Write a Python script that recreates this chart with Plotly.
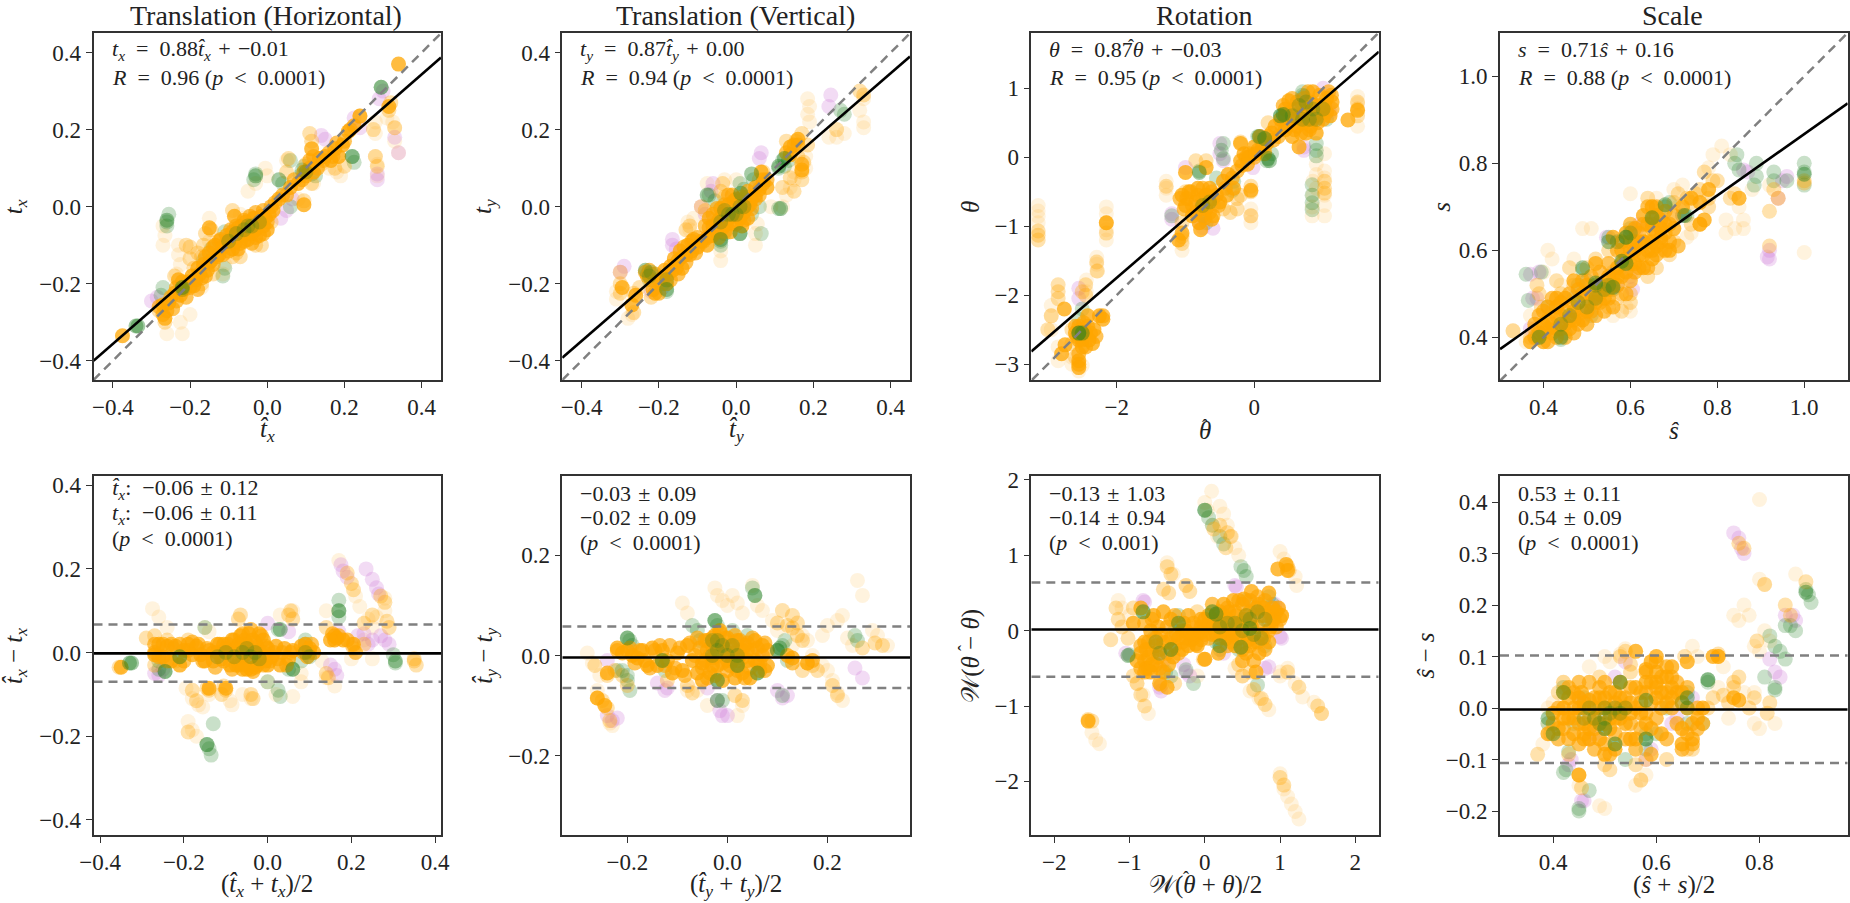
import plotly.graph_objects as go

W, H = 1850, 903
SERIF = "Liberation Serif"
ORANGE, GREEN, PLUM, GRAY, BLACK = "#FFA500", "#1E7D1E", "#D27FD8", "#808080", "#000000"

# ---------- Translation (Horizontal), top ----------
A_FAINT = [(-0.27,-0.05),(-0.265,-0.075),(-0.27,-0.10),(-0.23,-0.10),(-0.23,-0.125),(-0.225,-0.15),(-0.235,-0.175),(-0.22,-0.33),(-0.225,-0.30),(-0.15,-0.09),(-0.15,-0.03),(-0.115,-0.175),(-0.11,-0.15),(-0.06,-0.03),(-0.005,0.10),(-0.03,0.06),(-0.05,0.04),(-0.07,-0.02),(0.0,0.08),(0.05,0.12),(0.08,0.02),(0.19,0.08),(0.28,0.22),(0.28,0.19),(0.28,0.13),(0.285,0.11),(0.285,0.08),(0.325,0.22),(0.33,0.205),(0.34,0.14),(0.33,0.17),(0.31,0.23),(-0.20,-0.28),(-0.26,-0.33),(-0.17,-0.21),(0.12,0.06),(0.16,0.10),(0.18,0.09)]
A_PLUM = [(-0.30,-0.245),(-0.285,-0.235),(0.14,0.185),(0.15,0.175),(0.225,0.23),(0.24,0.205),(0.29,0.28),(0.30,0.30),(0.33,0.18),(0.34,0.14),(0.285,0.085),(0.285,0.07),(0.035,-0.03),(0.065,0.02),(0.05,-0.01)]
A_GREEN = [(-0.255,-0.02),(-0.26,-0.04),(-0.26,-0.05),(-0.275,-0.23),(-0.27,-0.21),(-0.11,-0.065),(-0.145,-0.11),(-0.115,-0.18),(-0.11,-0.16),(-0.165,-0.14),(-0.035,0.07),(-0.03,0.085),(0.04,0.06),(0.06,0.12),(0.085,0.08),(0.095,0.105),(0.115,0.085),(0.125,0.08),(0.22,0.13),(0.225,0.115),(0.06,0.0),(-0.08,-0.09),(0.295,0.31),(-0.06,-0.06),(-0.05,-0.06)]
A_MID = [(-0.28,-0.27),(-0.265,-0.30),(-0.24,-0.18),(-0.21,-0.10),(-0.20,-0.105),(-0.20,-0.135),(-0.18,-0.12),(-0.17,-0.13),(-0.19,-0.16),(-0.17,-0.20),(-0.165,-0.10),(-0.16,-0.07),(-0.145,-0.06),(-0.14,-0.175),(-0.09,-0.01),(-0.09,-0.13),(-0.08,-0.12),(-0.07,-0.13),(-0.03,-0.10),(-0.015,-0.10),(0.01,-0.04),(0.055,0.125),(0.05,0.09),(0.095,0.015),(0.10,0.11),(0.11,0.19),(0.115,0.17),(0.115,0.06),(0.14,0.11),(0.175,0.10),(0.20,0.105),(0.24,0.235),(0.275,0.20),(0.28,0.13),(0.285,0.105),(0.315,0.25),(0.33,0.205),(0.32,0.27)]
A_DENSE = [(-0.28,-0.26),(-0.27,-0.28),(-0.26,-0.27),(-0.25,-0.235),(-0.245,-0.265),(-0.235,-0.21),(-0.235,-0.245),(-0.22,-0.195),(-0.21,-0.235),(-0.2,-0.21),(-0.185,-0.19),(-0.18,-0.215),(-0.17,-0.185),(-0.16,-0.13),(-0.16,-0.18),(-0.15,-0.145),(-0.14,-0.105),(-0.14,-0.15),(-0.13,-0.13),(-0.125,-0.09),(-0.115,-0.125),(-0.105,-0.09),(-0.1,-0.115),(-0.095,-0.06),(-0.085,-0.095),(-0.08,-0.05),(-0.075,-0.11),(-0.07,-0.07),(-0.06,-0.035),(-0.06,-0.09),(-0.05,-0.065),(-0.045,-0.025),(-0.04,-0.095),(-0.03,-0.015),(-0.03,-0.08),(-0.02,-0.04),(-0.01,-0.07),(-0.01,-0.01),(0.0,-0.04),(0.01,0.0),(0.02,0.01),(0.04,0.03),(0.05,0.03),(0.07,0.07),(0.09,0.07),(0.1,0.08),(0.11,0.12),(0.12,0.13),(0.13,0.1),(0.145,0.12),(0.16,0.14),(0.17,0.13),(0.18,0.165),(0.2,0.17),(0.215,0.2)]
A_CORE = [(-0.375,-0.335),(-0.27,-0.255),(-0.265,-0.29),(-0.255,-0.25),(-0.24,-0.225),(-0.23,-0.19),(-0.225,-0.23),(-0.215,-0.215),(-0.205,-0.195),(-0.195,-0.18),(-0.19,-0.205),(-0.18,-0.16),(-0.175,-0.175),(-0.165,-0.15),(-0.155,-0.165),(-0.15,-0.12),(-0.145,-0.14),(-0.15,-0.055),(-0.135,-0.10),(-0.125,-0.125),(-0.12,-0.085),(-0.115,-0.105),(-0.105,-0.075),(-0.10,-0.095),(-0.09,-0.065),(-0.09,-0.11),(-0.085,-0.025),(-0.08,-0.08),(-0.075,-0.055),(-0.07,-0.095),(-0.065,-0.05),(-0.06,-0.075),(-0.055,-0.04),(-0.05,-0.085),(-0.045,-0.055),(-0.04,-0.07),(-0.035,-0.03),(-0.03,-0.06),(-0.025,-0.045),(-0.02,-0.075),(-0.015,-0.025),(-0.01,-0.05),(-0.005,-0.03),(0.0,-0.06),(0.005,-0.02),(0.015,-0.01),(0.03,0.02),(0.06,0.05),(0.08,0.06),(0.095,0.09),(0.095,0.005),(0.11,0.10),(0.115,0.15),(0.12,0.09),(0.135,0.125),(0.15,0.13),(0.165,0.12),(0.175,0.15),(0.185,0.13),(0.195,0.16),(0.21,0.195),(0.225,0.21),(0.24,0.235),(0.315,0.26),(0.34,0.37)]
A_SHADE = [(-0.22,-0.215),(-0.1,-0.09),(-0.08,-0.07),(-0.06,-0.06),(-0.05,-0.05),(-0.04,-0.05),(-0.02,-0.04),(0.09,0.095),(0.1,0.09)]
A_TOP = [(-0.34,-0.31),(-0.335,-0.31),(-0.26,-0.035),(-0.22,-0.21),(0.22,0.13),(0.295,0.31),(-0.03,0.08),(0.03,0.07)]

# ---------- Translation (Vertical), top ----------
B_FAINT = [(-0.31,-0.24),(-0.31,-0.22),(-0.28,-0.29),(-0.27,-0.28),(-0.125,-0.04),(-0.11,-0.03),(-0.12,-0.06),(-0.04,-0.14),(-0.04,-0.115),(0.05,-0.07),(0.05,-0.10),(0.055,-0.045),(0.0,0.07),(-0.03,0.07),(-0.075,0.06),(0.09,0.0),(0.12,0.0),(0.13,0.03),(0.14,0.05),(0.15,0.09),(0.15,0.07),(0.18,0.10),(0.18,0.13),(0.185,0.24),(0.185,0.28),(0.19,0.26),(0.19,0.22),(0.24,0.18),(0.26,0.18),(0.28,0.19),(0.33,0.22),(0.33,0.205),(0.33,0.28),(0.32,0.25)]
B_PLUM = [(-0.30,-0.17),(-0.29,-0.155),(-0.165,-0.10),(-0.165,-0.085),(-0.155,-0.11),(-0.06,0.06),(-0.065,0.04),(0.06,0.125),(0.065,0.14),(0.245,0.29),(0.24,0.26),(-0.08,-0.02),(-0.09,0.0),(-0.19,-0.21),(-0.22,-0.22)]
B_GREEN = [(-0.235,-0.165),(-0.23,-0.175),(-0.22,-0.175),(-0.225,-0.19),(-0.19,-0.20),(-0.18,-0.22),(-0.07,0.03),(-0.055,0.015),(-0.04,-0.09),(-0.04,-0.10),(-0.03,-0.07),(-0.02,-0.03),(0.01,-0.07),(0.01,0.06),(0.02,0.045),(0.045,0.07),(0.04,-0.02),(0.11,-0.005),(0.12,0.12),(0.125,0.105),(0.11,0.10),(0.135,0.12),(0.27,0.25),(0.28,0.24),(0.06,0.0),(0.065,-0.07)]
B_MID = [(-0.30,-0.17),(-0.30,-0.20),(-0.30,-0.225),(-0.265,-0.275),(-0.265,-0.225),(-0.25,-0.21),(-0.22,-0.235),(-0.13,-0.06),(-0.12,-0.05),(-0.095,-0.10),(-0.09,0.0),(-0.08,-0.01),(-0.04,0.04),(-0.035,0.06),(-0.03,0.025),(0.06,0.07),(0.07,0.09),(0.12,0.05),(0.14,0.075),(0.15,0.04),(0.16,0.13),(0.17,0.09),(0.175,0.115),(0.17,0.07),(0.155,0.17),(0.13,0.17),(0.17,0.19),(0.185,0.16),(0.26,0.20),(0.32,0.30),(0.33,0.29)]
B_DENSE = [(-0.235,-0.17),(-0.23,-0.18),(-0.225,-0.165),(-0.22,-0.19),(-0.21,-0.175),(-0.2,-0.225),(-0.2,-0.19),(-0.175,-0.175),(-0.17,-0.19),(-0.155,-0.16),(-0.15,-0.175),(-0.14,-0.13),(-0.135,-0.105),(-0.13,-0.145),(-0.12,-0.125),(-0.115,-0.09),(-0.105,-0.12),(-0.1,-0.08),(-0.085,-0.09),(-0.08,-0.05),(-0.075,-0.08),(-0.07,-0.055),(-0.06,-0.02),(-0.06,-0.075),(-0.05,-0.045),(-0.05,-0.005),(-0.045,-0.08),(-0.04,-0.055),(-0.035,-0.02),(-0.03,0.005),(-0.03,-0.065),(-0.02,-0.03),(-0.02,0.03),(-0.01,-0.045),(-0.01,0.03),(0.0,-0.02),(0.0,0.02),(0.01,-0.03),(0.015,0.025),(0.02,-0.035),(0.03,0.0),(0.03,0.04),(0.04,-0.005),(0.05,0.03),(0.05,0.02),(0.06,0.03),(0.07,0.07),(0.08,0.07),(0.13,0.14),(0.15,0.16),(0.16,0.16),(0.17,0.11)]
B_CORE = [(-0.295,-0.21),(-0.27,-0.255),(-0.26,-0.23),(-0.21,-0.225),(-0.215,-0.215),(-0.19,-0.185),(-0.185,-0.165),(-0.18,-0.20),(-0.17,-0.155),(-0.165,-0.165),(-0.16,-0.135),(-0.15,-0.14),(-0.145,-0.115),(-0.14,-0.16),(-0.13,-0.125),(-0.125,-0.10),(-0.115,-0.115),(-0.11,-0.085),(-0.10,-0.105),(-0.09,-0.09),(-0.075,-0.10),(-0.07,-0.03),(-0.065,-0.075),(-0.06,-0.05),(-0.05,-0.065),(-0.045,-0.035),(-0.04,-0.005),(-0.035,-0.055),(-0.03,-0.02),(-0.025,-0.045),(-0.02,0.005),(-0.015,-0.065),(-0.01,-0.025),(-0.005,0.015),(0.0,-0.045),(0.005,-0.01),(0.01,0.01),(0.015,-0.05),(0.02,-0.015),(0.025,0.025),(0.03,-0.03),(0.035,0.005),(0.04,0.02),(0.05,0.05),(0.06,0.045),(0.07,0.06),(0.08,0.05),(0.065,0.09),(0.14,0.155),(0.16,0.175),(0.17,0.095),(0.14,0.135)]
B_SHADE = [(-0.235,-0.165),(-0.225,-0.18),(-0.22,-0.17),(-0.04,-0.04),(-0.03,-0.01),(-0.02,-0.02),(-0.01,-0.02),(0.0,-0.02),(0.01,0.0),(0.02,0.0),(-0.18,-0.19)]
B_TOP = [(-0.18,-0.215),(-0.075,0.03),(-0.04,-0.085),(0.01,-0.07),(0.012,0.035),(0.04,0.085),(0.11,0.105),(0.115,-0.005),(0.125,0.125)]

# ---------- Rotation, top ----------
C_FAINT = [(-3.14,-0.70),(-3.14,-0.78),(-3.14,-0.86),(-3.14,-0.95),(-2.15,-0.72),(-2.15,-0.82),(-2.15,-1.05),(-2.15,-1.2),(-2.29,-1.45),(-2.29,-1.55),(-2.29,-1.65),(-2.44,-1.78),(-2.44,-1.95),(-2.95,-2.3),(-2.95,-2.15),(-2.95,-2.5),(-2.85,-2.75),(-2.85,-2.95),(-2.65,-2.9),(-2.65,-3.0),(-2.55,-3.1),(-2.5,-3.02),(-1.28,-0.35),(-1.28,-0.45),(-1.28,-0.55),(-1.05,-1.35),(-1.05,-1.2),(-0.05,-0.75),(-0.05,-0.85),(-0.05,-0.95),(0.9,-0.1),(0.9,-0.25),(0.9,-0.45),(1.02,-0.2),(1.02,-0.3),(1.02,0.05),(1.02,-0.55),(1.02,-0.7),(1.02,-0.85),(1.5,0.88),(1.5,0.78),(1.5,0.45),(0.85,-0.35),(0.85,-0.55),(0.84,-0.72),(0.84,-0.85)]
C_PLUM = [(-1.2,-0.82),(-1.2,-0.9),(-1.0,-0.15),(-0.8,-0.95),(-0.75,-1.02),(-0.6,-1.03),(-0.45,-0.05),(-0.5,0.05),(-0.5,0.2),(1.0,1.0),(0.72,0.15),(0.72,0.1),(1.08,0.72),(1.1,0.65),(-2.55,-2.05),(-2.55,-1.9),(0.1,0.3),(-0.02,-0.15)]
C_GREEN = [(-2.5,-2.2),(-2.55,-2.35),(-1.2,-0.85),(-0.8,-0.2),(-0.75,-0.85),(-0.7,-0.95),(-0.45,-0.02),(-0.48,0.1),(-0.45,0.2),(-0.3,-0.35),(-0.32,-0.48),(0.05,0.3),(0.1,0.25),(0.18,-0.05),(0.25,0.05),(0.38,0.6),(0.45,0.62),(0.7,0.95),(0.72,0.88),(0.9,0.2),(0.9,0.1),(0.9,0.02),(0.84,-0.4),(0.84,-0.55),(0.84,-0.66),(0.84,-0.76),(1.05,0.55),(-0.55,-0.3)]
C_MID = [(-3.14,-1.07),(-3.14,-1.13),(-3.14,-1.2),(-2.15,-0.95),(-2.15,-1.1),(-2.29,-1.52),(-2.28,-1.65),(-2.85,-1.85),(-2.85,-1.95),(-2.85,-2.05),(-2.95,-2.3),(-3.0,-2.5),(-2.6,-2.9),(-2.65,-2.7),(-2.65,-2.5),(-2.45,-2.0),(-2.45,-1.85),(-2.5,-1.95),(-1.28,-0.42),(-1.05,-1.15),(-1.05,-1.25),(-0.25,-0.75),(-0.25,-0.6),(-0.05,-0.5),(-0.05,-0.85),(-0.05,-0.42),(-0.2,-0.55),(1.02,-0.35),(1.02,-0.45),(1.02,-0.52),(1.5,0.7),(1.5,0.6),(1.5,0.8),(-0.7,-0.05),(-0.85,-0.05),(-1.0,-0.5),(-1.05,-0.95),(-0.45,-0.75),(-0.35,-0.8),(-0.6,-0.7),(0.15,0.1),(0.2,0.5),(-0.2,0.22)]
C_DENSE = [(-2.6,-2.45),(-2.58,-2.6),(-2.52,-2.5),(-2.5,-2.65),(-2.48,-2.4),(-2.45,-2.75),(-2.42,-2.45),(-2.38,-2.55),(-2.3,-2.6),(-2.55,-2.85),(-2.55,-3.0),(-2.2,-2.3),(-1.08,-0.6),(-1.02,-0.75),(-0.98,-0.6),(-0.92,-0.5),(-0.9,-0.7),(-0.85,-0.8),(-0.82,-0.55),(-0.78,-0.75),(-0.75,-0.45),(-0.72,-0.88),(-0.68,-0.65),(-0.65,-0.8),(-0.62,-0.5),(-0.6,-0.85),(-0.55,-0.55),(-0.52,-0.7),(-0.42,-0.45),(-0.32,-0.3),(-0.25,-0.2),(-0.18,-0.12),(-0.12,0.0),(-0.08,0.05),(0.0,0.0),(0.05,0.1),(0.15,0.05),(0.2,0.3),(0.28,0.25),(0.35,0.3),(0.4,0.45),(0.42,0.75),(0.45,0.6),(0.48,0.45),(0.5,0.65),(0.55,0.85),(0.58,0.4),(0.6,0.6),(0.62,0.8),(0.65,0.5),(0.68,0.35),(0.7,0.75),(0.72,0.5),(0.75,0.65),(0.78,0.95),(0.8,0.4),(0.82,0.8),(0.85,0.55),(0.88,0.75),(0.92,0.5),(0.95,0.9),(0.98,0.65),(1.02,0.75),(1.05,0.65),(1.08,0.95),(1.12,0.9),(1.13,0.7)]
C_CORE = [(-2.75,-2.72),(-2.8,-2.85),(-2.76,-2.2),(-2.6,-2.55),(-2.55,-2.65),(-2.55,-2.45),(-2.5,-2.75),(-2.55,-2.95),(-2.55,-3.05),(-2.45,-2.55),(-2.42,-2.3),(-2.4,-2.65),(-2.35,-2.7),(-2.33,-2.5),(-2.25,-2.3),(-2.2,-2.35),(-2.15,-0.95),(-1.1,-1.2),(-1.05,-1.1),(-1.0,-0.22),(-1.05,-0.55),(-1.0,-0.7),(-0.95,-0.5),(-0.9,-0.85),(-0.85,-0.65),(-0.82,-0.45),(-0.8,-0.95),(-0.78,-1.05),(-0.75,-0.6),(-0.7,-0.75),(-0.7,-0.55),(-0.7,-0.15),(-0.65,-0.45),(-0.62,-0.9),(-0.6,-0.6),(-0.5,-0.65),(-0.45,-0.35),(-0.4,-0.55),(-0.38,-0.25),(-0.3,-0.45),(-0.2,0.2),(-0.2,-0.05),(-0.15,0.05),(-0.1,-0.1),(-0.08,0.0),(-0.05,-0.48),(0.0,0.15),(0.02,0.05),(0.08,0.3),(0.12,0.15),(0.18,0.2),(0.25,0.35),(0.3,0.45),(0.38,0.55),(0.45,0.4),(0.45,0.7),(0.5,0.82),(0.55,0.3),(0.55,0.55),(0.6,0.7),(0.62,0.45),(0.65,0.15),(0.7,0.6),(0.72,0.85),(0.75,0.35),(0.78,0.55),(0.8,0.7),(0.82,0.45),(0.85,0.95),(0.88,0.6),(0.9,0.35),(0.95,0.75),(1.0,0.55),(1.05,0.85),(1.1,0.6),(1.13,0.8),(1.36,0.54),(1.5,0.68)]
C_SHADE = [(0.55,0.6),(0.65,0.75),(0.7,0.55),(0.75,0.8),(0.8,0.55),(0.85,0.7),(0.7,0.9),(-0.65,-0.65),(-0.75,-0.7),(-2.55,-2.55),(1.0,0.7),(0.9,0.55)]
C_TOP = [(-2.55,-2.55),(-2.5,-2.55),(0.2,-0.02),(0.22,-0.05),(0.38,0.6),(0.42,0.62),(0.07,0.3),(0.15,0.27),(-0.8,-0.22)]

# ---------- Scale, top ----------
D_FAINT = [(0.33,0.415),(0.36,0.39),(0.37,0.45),(0.41,0.60),(0.42,0.58),(0.49,0.65),(0.51,0.65),(0.47,0.58),(0.44,0.52),(0.40,0.55),(0.56,0.45),(0.60,0.46),(0.59,0.47),(0.66,0.72),(0.70,0.74),(0.72,0.75),(0.68,0.60),(0.73,0.63),(0.74,0.64),(0.71,0.70),(0.78,0.79),(0.79,0.82),(0.81,0.84),(0.83,0.82),(0.82,0.67),(0.84,0.65),(0.86,0.65),(0.86,0.67),(0.82,0.64),(0.92,0.75),(0.94,0.72),(1.0,0.595),(0.85,0.70),(0.88,0.74),(0.60,0.73),(0.56,0.51)]
D_PLUM = [(0.37,0.545),(0.39,0.55),(0.375,0.49),(0.385,0.49),(0.545,0.63),(0.615,0.65),(0.62,0.66),(0.37,0.42),(0.45,0.43),(0.475,0.45),(0.57,0.52),(0.6,0.54),(0.605,0.51),(0.86,0.785),(0.87,0.78),(0.95,0.76),(0.96,0.77),(0.92,0.60),(0.915,0.585),(0.92,0.58),(0.94,0.72),(0.72,0.68)]
D_GREEN = [(0.36,0.545),(0.395,0.55),(0.365,0.485),(0.385,0.40),(0.41,0.47),(0.44,0.395),(0.45,0.41),(0.47,0.49),(0.48,0.52),(0.49,0.555),(0.5,0.53),(0.51,0.45),(0.555,0.52),(0.56,0.51),(0.55,0.63),(0.58,0.62),(0.6,0.65),(0.65,0.66),(0.68,0.70),(0.72,0.68),(0.73,0.68),(0.84,0.80),(0.845,0.82),(0.85,0.785),(0.89,0.80),(0.89,0.77),(0.885,0.75),(0.93,0.78),(0.93,0.76),(0.96,0.76),(1.0,0.80),(1.0,0.78),(1.0,0.75),(0.69,0.71)]
D_MID = [(0.33,0.415),(0.37,0.40),(0.38,0.42),(0.385,0.52),(0.39,0.50),(0.395,0.47),(0.42,0.46),(0.43,0.53),(0.44,0.50),(0.46,0.56),(0.47,0.52),(0.48,0.44),(0.5,0.56),(0.52,0.58),(0.55,0.60),(0.56,0.55),(0.6,0.50),(0.6,0.48),(0.55,0.47),(0.58,0.46),(0.64,0.54),(0.66,0.56),(0.67,0.60),(0.69,0.59),(0.7,0.62),(0.65,0.70),(0.64,0.72),(0.7,0.71),(0.74,0.66),(0.76,0.66),(0.71,0.73),(0.73,0.72),(0.76,0.74),(0.78,0.72),(0.79,0.76),(0.77,0.78),(0.83,0.72),(0.84,0.73),(0.92,0.69),(0.93,0.74),(0.94,0.72),(1.0,0.76),(1.0,0.755),(0.92,0.61),(0.58,0.50),(0.57,0.49),(0.78,0.70),(0.8,0.76),(0.75,0.73),(0.74,0.71)]
D_DENSE = [(0.38,0.40),(0.38,0.43),(0.39,0.45),(0.4,0.41),(0.4,0.46),(0.41,0.39),(0.41,0.47),(0.42,0.43),(0.42,0.49),(0.43,0.40),(0.43,0.45),(0.44,0.42),(0.44,0.48),(0.45,0.40),(0.45,0.46),(0.46,0.44),(0.46,0.50),(0.47,0.41),(0.47,0.47),(0.48,0.43),(0.48,0.51),(0.49,0.46),(0.49,0.53),(0.5,0.43),(0.5,0.49),(0.51,0.46),(0.51,0.54),(0.52,0.45),(0.52,0.51),(0.53,0.48),(0.53,0.55),(0.54,0.46),(0.54,0.52),(0.55,0.49),(0.55,0.57),(0.56,0.47),(0.56,0.54),(0.57,0.52),(0.57,0.60),(0.58,0.54),(0.58,0.62),(0.59,0.50),(0.59,0.58),(0.6,0.53),(0.6,0.62),(0.6,0.66),(0.61,0.55),(0.61,0.60),(0.62,0.56),(0.62,0.64),(0.63,0.59),(0.63,0.66),(0.64,0.56),(0.64,0.60),(0.64,0.70),(0.65,0.62),(0.65,0.67),(0.66,0.59),(0.66,0.64),(0.66,0.70),(0.67,0.62),(0.67,0.67),(0.68,0.60),(0.68,0.64),(0.68,0.69),(0.69,0.66),(0.7,0.68),(0.69,0.62),(0.71,0.61)]
D_CORE = [(0.37,0.39),(0.39,0.41),(0.4,0.43),(0.4,0.39),(0.41,0.44),(0.42,0.41),(0.43,0.42),(0.44,0.45),(0.45,0.43),(0.46,0.42),(0.47,0.46),(0.48,0.48),(0.49,0.44),(0.5,0.46),(0.51,0.50),(0.52,0.48),(0.53,0.52),(0.54,0.49),(0.55,0.54),(0.56,0.52),(0.56,0.63),(0.57,0.56),(0.58,0.60),(0.59,0.64),(0.59,0.55),(0.6,0.60),(0.61,0.57),(0.61,0.65),(0.62,0.59),(0.62,0.62),(0.63,0.68),(0.63,0.56),(0.64,0.62),(0.64,0.66),(0.65,0.58),(0.65,0.65),(0.66,0.61),(0.66,0.68),(0.67,0.63),(0.68,0.66),(0.65,0.70),(0.69,0.60),(0.77,0.67),(0.76,0.66),(0.85,0.72),(0.52,0.57),(0.47,0.53),(0.43,0.49),(0.5,0.52),(0.41,0.42),(0.43,0.47),(0.45,0.49),(0.47,0.44),(0.49,0.50),(0.51,0.48),(0.53,0.50),(0.55,0.51),(0.57,0.54),(0.58,0.57),(0.6,0.57),(0.61,0.62),(0.63,0.62),(0.65,0.60),(0.67,0.65),(0.7,0.65),(0.72,0.70),(0.74,0.72),(0.76,0.71),(0.78,0.74)]
D_SHADE = [(0.5,0.47),(0.52,0.49),(0.54,0.51),(0.44,0.43),(0.46,0.45),(0.48,0.48),(0.52,0.52),(0.57,0.62),(0.59,0.63),(0.6,0.64),(0.55,0.52)]
D_TOP = [(0.59,0.57),(0.58,0.575),(0.39,0.40),(0.44,0.40),(0.49,0.56),(0.52,0.525),(0.56,0.515),(0.55,0.62),(0.59,0.63),(0.65,0.675),(0.68,0.705),(0.725,0.68),(1.0,0.775)]

# ---------- Translation (Horizontal), bottom ----------
E_FAINT = [(-0.275,0.105),(-0.26,0.085),(-0.24,0.06),(-0.19,-0.165),(-0.18,-0.185),(-0.17,-0.20),(-0.195,-0.085),(-0.18,-0.11),(-0.165,-0.125),(-0.155,-0.13),(-0.14,-0.10),(-0.09,-0.115),(-0.085,-0.125),(-0.06,-0.10),(-0.04,-0.11),(0.02,-0.10),(0.0,-0.07),(0.06,-0.105),(0.08,-0.07),(0.08,-0.05),(0.14,0.1),(0.17,0.22),(0.21,0.135),(0.22,0.11),(0.24,0.08),(0.25,0.06),(0.26,0.085),(0.28,0.13),(0.28,0.10),(0.23,0.03),(0.25,-0.015),(0.20,-0.015),(0.16,-0.08),(0.13,-0.02),(0.14,-0.06),(-0.15,0.06),(-0.14,0.05),(0.03,0.09),(0.06,0.10)]
E_PLUM = [(-0.26,-0.055),(-0.27,-0.05),(-0.25,-0.04),(0.05,0.05),(0.0,0.07),(0.15,-0.03),(0.16,-0.04),(0.165,-0.055),(0.17,0.05),(0.175,0.21),(0.18,0.195),(0.19,0.18),(0.235,0.20),(0.25,0.175),(0.26,0.155),(0.265,0.14),(0.23,0.045),(0.27,0.04),(0.28,0.03),(0.29,0.02),(0.25,0.03),(0.24,0.02),(0.215,0.04)]
E_GREEN = [(-0.26,-0.02),(-0.26,-0.04),(-0.245,-0.045),(-0.225,0.01),(-0.21,-0.01),(-0.15,0.06),(-0.13,-0.17),(-0.145,-0.22),(-0.14,-0.23),(-0.135,-0.245),(0.0,-0.07),(0.025,-0.09),(0.03,-0.105),(0.025,0.055),(0.05,-0.04),(0.06,-0.04),(0.08,-0.02),(0.09,0.02),(0.09,0.03),(0.17,0.125),(0.17,0.10),(0.17,0.085),(0.3,-0.005),(0.305,-0.025),(-0.07,-0.03),(-0.05,-0.01)]
E_MID = [(-0.355,-0.035),(-0.29,0.035),(-0.27,0.04),(-0.27,-0.03),(-0.24,0.03),(-0.22,-0.02),(-0.19,0.03),(-0.17,0.01),(-0.18,-0.09),(-0.17,-0.115),(-0.145,-0.085),(-0.14,-0.09),(-0.1,-0.09),(-0.105,-0.08),(-0.11,-0.1),(-0.035,-0.11),(-0.04,-0.1),(-0.07,0.08),(-0.065,0.09),(0.05,0.09),(0.055,0.1),(0.06,0.08),(0.14,-0.05),(0.145,-0.06),(0.14,0.06),(0.16,0.03),(0.2,0.02),(0.205,0.01),(0.23,0.02),(0.25,0.09),(0.23,0.07),(0.2,0.165),(0.205,0.15),(0.27,0.135),(0.28,0.12),(0.285,0.075),(0.29,0.06),(0.35,-0.02),(0.355,-0.03),(0.35,-0.015),(0.19,0.19),(-0.19,-0.19)]
E_DENSE = [(-0.27,0.0),(-0.27,0.02),(-0.26,-0.01),(-0.25,0.02),(-0.24,-0.02),(-0.23,0.02),(-0.21,0.02),(-0.2,-0.02),(-0.19,0.005),(-0.18,0.025),(-0.165,0.02),(-0.155,-0.02),(-0.145,0.01),(-0.13,0.0),(-0.125,-0.035),(-0.115,0.02),(-0.105,-0.02),(-0.095,0.02),(-0.09,0.0),(-0.085,-0.04),(-0.08,0.03),(-0.07,-0.025),(-0.065,0.01),(-0.06,0.045),(-0.055,-0.03),(-0.05,0.02),(-0.045,-0.01),(-0.04,0.055),(-0.035,-0.045),(-0.03,0.025),(-0.025,-0.03),(-0.02,0.005),(-0.015,0.04),(-0.01,-0.03),(-0.005,0.015),(0.005,-0.02),(0.015,0.0),(0.025,-0.015),(0.035,0.0),(0.045,-0.03),(0.055,0.0),(0.085,0.0),(0.1,0.0),(0.105,0.02),(0.16,0.03),(0.17,0.04),(0.155,0.045),(0.19,0.03),(0.21,0.0)]
E_CORE = [(-0.35,-0.035),(-0.27,-0.005),(-0.26,0.02),(-0.25,-0.01),(-0.24,0.015),(-0.23,-0.02),(-0.22,0.015),(-0.21,-0.03),(-0.2,0.005),(-0.19,0.02),(-0.18,-0.005),(-0.17,0.015),(-0.16,-0.005),(-0.15,-0.02),(-0.14,0.005),(-0.13,-0.02),(-0.12,0.02),(-0.11,-0.015),(-0.1,0.01),(-0.09,-0.03),(-0.085,0.03),(-0.08,0.005),(-0.075,-0.03),(-0.07,0.02),(-0.065,0.04),(-0.06,-0.01),(-0.055,0.03),(-0.05,-0.04),(-0.045,0.045),(-0.04,0.0),(-0.035,0.03),(-0.03,-0.035),(-0.025,0.015),(-0.02,0.045),(-0.015,-0.005),(-0.01,0.03),(-0.005,-0.02),(0.0,0.01),(0.01,-0.01),(0.02,0.015),(0.03,-0.03),(0.04,0.01),(0.05,-0.015),(0.06,0.005),(0.08,0.015),(0.09,0.02),(0.095,-0.01),(0.1,0.01),(0.11,0.0),(0.15,0.03),(0.16,0.04),(0.165,0.035),(0.18,0.03),(0.205,0.02),(-0.14,-0.085),(-0.1,-0.085),(-0.12,0.0),(-0.105,0.02),(-0.095,0.0),(-0.075,0.01),(-0.06,0.02),(-0.05,0.0),(-0.03,0.0),(-0.02,-0.02),(-0.01,0.0),(0.0,-0.03),(-0.04,-0.04),(-0.06,-0.04)]
E_SHADE = [(-0.12,-0.01),(-0.1,0.0),(-0.08,-0.01),(-0.06,0.0),(-0.05,0.01),(-0.04,-0.01),(-0.03,0.0),(-0.02,-0.015),(0.09,0.0),(0.1,-0.01)]
E_TOP = [(-0.33,-0.025),(-0.325,-0.025),(-0.21,-0.01),(-0.145,-0.22),(0.03,0.055),(0.17,0.1),(0.06,-0.04),(0.305,-0.02),(-0.245,-0.045)]

# ---------- Translation (Vertical), bottom ----------
F_FAINT = [(-0.28,0.005),(-0.27,-0.015),(-0.255,-0.04),(-0.26,-0.07),(-0.235,-0.135),(-0.23,-0.14),(-0.09,0.105),(-0.08,0.085),(-0.025,0.135),(-0.02,0.12),(-0.01,0.11),(0.0,0.1),(0.01,0.12),(0.02,0.105),(0.03,0.085),(0.05,0.14),(0.06,0.10),(0.07,0.09),(0.09,0.07),(0.1,0.05),(0.02,-0.12),(0.03,-0.10),(-0.04,-0.10),(-0.06,-0.07),(-0.08,-0.07),(0.13,0.02),(0.17,0.0),(0.19,-0.02),(0.2,-0.03),(0.21,-0.05),(0.22,-0.075),(0.23,-0.09),(0.22,0.07),(0.2,0.06),(0.19,0.04),(0.24,0.035),(0.26,0.15),(0.27,0.12),(0.23,0.08),(0.15,0.04),(0.16,0.03),(0.25,0.02),(0.29,0.05),(0.3,0.04),(0.32,0.02)]
F_PLUM = [(-0.24,-0.12),(-0.23,-0.13),(-0.22,-0.125),(-0.12,-0.065),(-0.14,-0.055),(-0.125,-0.07),(-0.04,-0.065),(-0.02,-0.09),(-0.01,-0.12),(0.0,-0.12),(-0.015,-0.11),(0.1,-0.07),(0.11,-0.085),(0.12,-0.08),(0.255,-0.025),(0.27,-0.045),(0.065,0.01),(-0.24,-0.01),(-0.03,0.02)]
F_GREEN = [(-0.2,0.035),(-0.195,0.03),(-0.19,0.02),(-0.22,-0.03),(-0.2,-0.05),(-0.195,-0.07),(-0.13,-0.01),(-0.125,-0.03),(-0.07,0.06),(-0.06,0.05),(-0.055,0.03),(-0.025,0.07),(-0.02,0.06),(0.01,0.05),(0.055,0.12),(0.05,0.135),(0.04,0.04),(0.1,0.01),(0.11,0.02),(0.115,0.03),(0.12,-0.01),(0.26,0.03),(0.255,0.04),(-0.02,-0.05),(0.06,-0.035),(0.02,-0.02),(-0.01,-0.09),(0.11,-0.08)]
F_MID = [(-0.265,-0.02),(-0.24,-0.04),(-0.26,-0.085),(-0.25,-0.09),(-0.24,-0.105),(-0.235,-0.13),(-0.225,-0.03),(-0.21,-0.04),(-0.2,-0.06),(-0.12,-0.05),(-0.08,-0.06),(-0.07,-0.075),(0.1,0.065),(0.12,0.06),(0.11,0.09),(0.13,0.055),(0.14,0.04),(0.15,0.03),(0.16,-0.015),(0.17,-0.02),(0.15,-0.03),(0.18,-0.03),(0.21,-0.06),(0.22,-0.08),(0.295,0.025),(0.31,0.02),(0.27,0.015),(0.015,-0.08),(0.03,-0.09),(0.14,0.065),(0.13,0.08)]
F_DENSE = [(-0.22,0.01),(-0.21,0.005),(-0.195,0.015),(-0.185,-0.015),(-0.175,0.01),(-0.165,-0.01),(-0.155,-0.025),(-0.145,0.01),(-0.135,0.02),(-0.125,-0.02),(-0.115,0.02),(-0.105,-0.025),(-0.095,0.015),(-0.085,-0.04),(-0.075,0.025),(-0.065,0.0),(-0.06,0.035),(-0.05,-0.025),(-0.045,0.03),(-0.04,-0.045),(-0.035,0.0),(-0.03,0.035),(-0.025,-0.04),(-0.02,0.02),(-0.015,0.045),(-0.01,-0.015),(-0.005,0.035),(0.0,-0.03),(0.005,0.02),(0.01,-0.01),(0.015,0.04),(0.02,-0.03),(0.025,0.03),(0.03,-0.005),(0.035,-0.045),(0.04,0.025),(0.045,-0.025),(0.05,0.035),(0.055,-0.01),(0.06,0.015),(0.065,-0.015),(0.07,0.0),(0.075,0.025),(0.075,-0.03),(0.08,0.01),(0.13,-0.015),(0.17,-0.01)]
F_CORE = [(-0.22,0.015),(-0.2,0.01),(-0.19,0.0),(-0.18,-0.005),(-0.17,0.01),(-0.16,-0.02),(-0.15,0.015),(-0.14,-0.02),(-0.13,0.01),(-0.12,-0.01),(-0.11,-0.035),(-0.1,0.005),(-0.09,-0.03),(-0.08,0.02),(-0.07,-0.01),(-0.06,-0.035),(-0.055,0.015),(-0.05,-0.05),(-0.045,-0.01),(-0.04,0.03),(-0.035,-0.035),(-0.03,-0.005),(-0.025,0.04),(-0.02,-0.02),(-0.015,0.025),(-0.01,-0.05),(-0.005,0.01),(0.0,0.035),(0.005,-0.02),(0.01,0.015),(0.015,-0.045),(0.02,0.03),(0.025,0.0),(0.03,-0.035),(0.035,0.02),(0.04,-0.01),(0.045,-0.045),(0.05,0.01),(0.055,0.03),(0.06,-0.015),(0.065,-0.03),(0.07,0.02),(0.08,-0.02),(-0.24,-0.035),(-0.26,-0.085),(-0.245,-0.1),(0.13,-0.005),(0.16,-0.015),(0.12,0.0),(-0.03,-0.02),(-0.02,0.0),(-0.01,0.015),(0.0,-0.01),(0.01,0.005),(0.02,-0.01),(0.03,0.01),(-0.04,0.01),(-0.05,-0.015),(-0.03,0.02),(-0.015,0.05),(0.04,0.01)]
F_SHADE = [(-0.03,0.0),(-0.02,0.01),(-0.01,0.02),(0.0,0.0),(-0.03,0.03),(-0.02,0.03),(0.01,0.02),(-0.21,-0.03),(-0.2,-0.04),(0.02,0.0)]
F_TOP = [(-0.2,0.035),(-0.13,-0.01),(-0.025,0.07),(-0.02,-0.05),(0.02,-0.02),(0.055,0.12),(0.06,-0.035),(0.1,0.01),(0.105,0.015),(-0.02,-0.09)]

# ---------- Rotation, bottom ----------
G_FAINT = [(0.09,1.85),(0.2,1.65),(0.25,1.55),(0.3,1.4),(0.34,1.25),(0.4,1.1),(0.45,1.0),(0.0,1.7),(0.03,1.6),(0.1,1.4),(0.17,1.25),(-0.5,0.9),(-0.42,0.75),(-0.25,0.6),(1.0,1.05),(1.05,0.95),(1.2,0.72),(1.22,0.6),(1.0,-0.6),(1.1,-0.5),(1.2,-0.7),(1.3,-0.88),(1.45,-0.95),(1.55,-1.1),(-1.4,-1.5),(-1.45,-1.45),(-1.5,-1.35),(-1.15,0.4),(-1.1,0.3),(-1.0,0.2),(-0.85,-0.55),(-0.9,-0.7),(-0.82,-0.85),(-0.75,-1.1),(1.0,-1.9),(1.05,-2.1),(1.1,-2.2),(1.15,-2.3),(1.2,-2.4),(1.25,-2.5),(0.5,-0.6),(0.6,-0.8),(0.72,-0.9),(0.85,-1.05),(0.4,-0.5),(-0.1,-0.6),(1.0,-0.55)]
G_PLUM = [(-1.05,-0.3),(-0.82,0.4),(-0.8,0.38),(-0.6,-0.75),(-0.58,-0.8),(-0.28,-0.45),(-0.25,-0.55),(-0.2,-0.6),(0.4,0.6),(0.42,0.58),(0.93,0.35),(0.97,0.3),(1.0,-0.08),(1.02,-0.1),(0.25,-0.3),(0.8,-0.5),(0.85,-0.48),(-0.55,-0.4),(0.2,0.05)]
G_GREEN = [(0.0,1.6),(0.05,1.5),(0.1,1.4),(0.2,1.25),(0.25,1.15),(0.48,0.85),(0.52,0.8),(0.55,0.72),(-0.82,0.25),(-0.35,0.2),(-0.32,0.05),(-0.45,-0.25),(-0.52,-0.55),(-0.25,-0.52),(-0.15,-0.7),(-1.0,-0.32),(-0.68,-0.1),(-0.45,-0.6),(0.1,0.25),(0.15,-0.15),(0.2,-0.25),(0.3,-0.1),(0.45,-0.25),(0.55,0.4),(0.62,0.0),(0.85,0.45),(0.9,0.35),(0.7,-0.72),(0.8,-0.2),(0.85,0.1),(-0.4,0.0)]
G_MID = [(-1.25,-0.12),(-1.15,0.15),(-1.1,0.05),(-1.18,0.3),(-1.02,-0.1),(-0.95,0.3),(-0.5,0.85),(-0.45,0.75),(-0.25,0.6),(-0.2,0.52),(-0.55,0.55),(-0.48,0.5),(-0.1,0.25),(0.2,1.4),(0.3,1.3),(0.35,1.25),(0.12,1.35),(0.28,1.1),(-0.95,-0.6),(-0.9,-0.7),(-0.85,-0.85),(-0.8,-1.0),(-0.58,-0.72),(-0.4,-0.7),(0.6,-0.55),(0.75,-0.9),(0.8,-0.98),(0.65,-0.78),(0.45,-0.45),(0.5,-0.6),(1.1,-0.55),(1.25,-0.75),(1.5,-1.0),(1.55,-1.1),(1.0,-1.95),(1.05,-2.05),(1.02,0.2),(1.12,0.8),(1.1,0.85),(-1.55,-1.18),(-1.5,-1.2),(0.0,-0.38),(-0.02,-0.38)]
G_DENSE = [(-0.85,-0.5),(-0.85,-0.2),(-0.8,-0.4),(-0.8,-0.55),(-0.8,0.1),(-0.75,-0.15),(-0.75,-0.5),(-0.7,-0.3),(-0.7,0.15),(-0.65,-0.45),(-0.65,-0.1),(-0.6,-0.25),(-0.6,-0.5),(-0.55,-0.15),(-0.5,-0.3),(-0.5,0.05),(-0.45,-0.1),(-0.4,-0.2),(-0.4,0.2),(-0.35,-0.3),(-0.3,0.0),(-0.3,-0.15),(-0.25,-0.1),(-0.2,-0.05),(-0.15,-0.1),(-0.15,0.1),(-0.1,-0.05),(-0.1,0.05),(-0.05,-0.12),(0.0,-0.05),(0.05,0.1),(0.05,-0.1),(0.1,0.15),(0.1,0.35),(0.15,-0.05),(0.15,0.05),(0.2,0.25),(0.2,-0.1),(0.25,0.05),(0.25,0.2),(0.3,-0.2),(0.3,0.3),(0.3,0.0),(0.35,0.1),(0.35,-0.15),(0.4,0.25),(0.4,0.05),(0.45,-0.1),(0.45,0.4),(0.5,0.1),(0.5,-0.25),(0.5,-0.4),(0.55,0.2),(0.55,-0.05),(0.6,-0.2),(0.6,0.4),(0.6,0.1),(0.65,-0.4),(0.65,0.2),(0.7,0.45),(0.7,-0.15),(0.75,0.2),(0.75,-0.05),(0.8,0.4),(0.8,-0.25),(0.85,0.25),(0.85,0.0),(0.9,0.15),(0.95,0.05),(0.95,0.25),(1.0,0.15),(-0.05,0.05)]
G_CORE = [(-1.55,-1.2),(-0.85,0.3),(-0.78,-0.5),(-0.85,-0.3),(-0.8,-0.15),(-0.75,-0.35),(-0.72,0.0),(-0.7,-0.45),(-0.68,0.2),(-0.65,-0.2),(-0.62,-0.35),(-0.6,-0.7),(-0.58,-0.05),(-0.55,0.25),(-0.5,-0.15),(-0.45,0.15),(-0.42,-0.35),(-0.35,-0.1),(-0.3,-0.25),(-0.25,0.0),(-0.22,0.2),(-0.18,-0.12),(-0.15,-0.05),(-0.12,-0.18),(-0.05,0.15),(0.0,-0.38),(0.0,0.15),(0.05,0.05),(0.1,-0.05),(0.15,0.2),(0.18,-0.3),(0.2,0.1),(0.25,0.35),(0.28,-0.1),(0.3,0.15),(0.35,0.0),(0.38,0.4),(0.4,-0.2),(0.42,0.2),(0.48,-0.05),(0.5,0.35),(0.52,0.15),(0.55,-0.3),(0.6,0.25),(0.62,0.52),(0.65,-0.15),(0.68,-0.55),(0.7,0.05),(0.72,0.35),(0.78,-0.1),(0.8,0.2),(0.85,0.5),(0.88,0.05),(0.92,0.15),(0.98,0.3),(1.02,0.2),(0.97,0.82),(1.08,0.88),(1.1,0.8),(-0.5,-0.75),(-0.9,-0.4),(-0.95,0.1),(-0.78,-0.25),(-0.72,-0.55),(-0.62,0.05),(-0.55,-0.55),(-0.48,-0.45),(-0.38,-0.05),(-0.28,0.1),(-0.22,-0.2),(-0.1,-0.2),(-0.05,-0.02),(0.05,0.2),(0.12,0.05),(0.22,-0.02),(0.32,0.25),(0.38,-0.05),(0.45,0.1),(0.52,0.42),(0.58,-0.12),(0.62,0.05),(0.68,0.3),(0.72,-0.3),(0.78,0.3),(0.85,-0.15),(0.9,0.3)]
G_SHADE = [(0.4,0.1),(0.5,0.0),(0.55,0.2),(0.6,0.15),(0.7,0.25),(0.75,-0.1),(0.8,0.15),(-0.65,-0.15),(-0.6,-0.3),(0.3,0.1),(0.2,0.05),(0.65,-0.05)]
G_TOP = [(0.1,0.25),(0.15,0.22),(0.6,0.03),(0.48,-0.22),(0.2,-0.2),(-0.45,-0.25),(-1.02,-0.33),(-0.82,0.25),(-0.35,0.1),(0.0,1.6)]

# ---------- Scale, bottom ----------
H_FAINT = [(0.38,-0.07),(0.39,-0.03),(0.39,0.0),(0.4,0.01),(0.42,0.05),(0.49,-0.19),(0.5,-0.195),(0.45,-0.15),(0.47,0.08),(0.5,0.1),(0.51,0.09),(0.54,0.115),(0.53,0.105),(0.56,-0.15),(0.57,-0.14),(0.58,-0.13),(0.59,0.03),(0.67,0.12),(0.68,0.1),(0.74,-0.02),(0.73,0.08),(0.75,0.18),(0.76,0.17),(0.77,0.2),(0.78,0.18),(0.8,0.405),(0.8,0.11),(0.79,0.12),(0.81,0.24),(0.8,0.25),(0.81,0.15),(0.79,-0.03),(0.8,-0.04),(0.83,-0.03),(0.72,0.04),(0.77,0.03),(0.79,0.03),(0.87,0.26),(0.82,0.13)]
H_PLUM = [(0.455,-0.18),(0.46,-0.18),(0.43,-0.11),(0.435,-0.10),(0.47,-0.06),(0.52,0.06),(0.54,0.09),(0.63,-0.03),(0.64,-0.02),(0.58,-0.1),(0.59,-0.08),(0.75,0.34),(0.76,0.33),(0.765,0.31),(0.77,0.3),(0.85,0.18),(0.865,0.18),(0.87,0.17),(0.82,0.095),(0.83,0.07),(0.84,0.06),(0.67,0.02),(0.45,0.02),(0.48,-0.05)]
H_GREEN = [(0.42,-0.125),(0.425,-0.12),(0.45,-0.2),(0.45,-0.195),(0.47,-0.16),(0.43,-0.085),(0.42,0.04),(0.39,-0.03),(0.44,-0.03),(0.46,0.02),(0.5,-0.04),(0.53,0.05),(0.58,-0.06),(0.58,-0.08),(0.58,-0.05),(0.6,-0.05),(0.62,0.0),(0.66,0.03),(0.66,-0.03),(0.7,0.055),(0.7,0.05),(0.82,0.14),(0.83,0.12),(0.84,0.11),(0.85,0.095),(0.81,0.06),(0.83,0.04),(0.83,0.035),(0.85,0.16),(0.86,0.16),(0.87,0.15),(0.89,0.23),(0.895,0.22),(0.9,0.205),(0.69,-0.03),(0.54,-0.1),(0.52,-0.07)]
H_MID = [(0.37,-0.09),(0.395,-0.05),(0.41,0.03),(0.43,-0.09),(0.42,0.05),(0.45,-0.13),(0.455,-0.155),(0.5,-0.11),(0.51,-0.12),(0.49,0.06),(0.53,0.1),(0.54,0.11),(0.55,0.085),(0.55,0.07),(0.56,-0.11),(0.57,-0.14),(0.58,-0.1),(0.62,-0.1),(0.655,0.1),(0.66,-0.08),(0.67,-0.08),(0.72,0.1),(0.72,0.105),(0.71,0.02),(0.73,0.025),(0.75,0.04),(0.76,0.06),(0.74,0.01),(0.78,0.0),(0.79,0.02),(0.82,0.01),(0.815,-0.01),(0.85,0.2),(0.86,0.18),(0.89,0.245),(0.795,0.13),(0.81,0.24),(0.77,0.31),(0.76,0.32),(0.75,0.05),(0.7,0.0)]
H_DENSE = [(0.4,-0.03),(0.41,0.0),(0.41,-0.06),(0.42,0.03),(0.42,-0.04),(0.43,-0.06),(0.43,0.04),(0.44,0.0),(0.44,0.03),(0.45,-0.07),(0.45,-0.03),(0.45,0.05),(0.46,0.01),(0.46,-0.05),(0.47,-0.02),(0.47,0.05),(0.48,-0.08),(0.48,0.02),(0.48,-0.04),(0.49,0.0),(0.49,0.04),(0.5,-0.07),(0.5,-0.03),(0.5,0.05),(0.51,0.0),(0.51,-0.09),(0.52,-0.05),(0.52,0.03),(0.53,-0.01),(0.53,0.05),(0.54,-0.06),(0.54,0.02),(0.55,-0.03),(0.55,0.04),(0.56,0.0),(0.56,-0.08),(0.57,0.03),(0.57,-0.04),(0.58,-0.01),(0.58,0.03),(0.58,0.07),(0.59,0.05),(0.59,0.01),(0.59,-0.09),(0.6,-0.02),(0.6,0.04),(0.6,0.09),(0.61,0.06),(0.61,0.0),(0.62,0.03),(0.62,0.08),(0.62,-0.06),(0.63,0.0),(0.63,0.06),(0.64,-0.03),(0.64,0.05),(0.65,0.01),(0.65,-0.08),(0.66,-0.05),(0.66,0.04),(0.67,-0.03),(0.67,-0.07),(0.68,0.0),(0.68,-0.04),(0.69,-0.03)]
H_CORE = [(0.39,-0.05),(0.4,-0.01),(0.41,-0.04),(0.42,0.0),(0.43,-0.02),(0.43,0.02),(0.44,-0.05),(0.45,0.0),(0.455,0.03),(0.46,-0.03),(0.47,0.015),(0.47,-0.06),(0.48,-0.02),(0.49,0.02),(0.49,-0.06),(0.5,0.0),(0.51,-0.04),(0.51,0.03),(0.52,0.01),(0.52,-0.08),(0.53,-0.02),(0.53,0.02),(0.54,-0.03),(0.55,0.01),(0.56,0.04),(0.56,-0.06),(0.57,-0.01),(0.58,0.05),(0.59,-0.04),(0.59,0.09),(0.6,0.02),(0.6,0.07),(0.61,-0.05),(0.62,0.06),(0.62,0.01),(0.63,0.04),(0.64,0.03),(0.65,-0.04),(0.65,-0.07),(0.66,0.0),(0.67,-0.06),(0.68,-0.02),(0.69,0.0),(0.75,0.02),(0.76,0.015),(0.72,0.1),(0.71,0.1),(0.5,-0.09),(0.45,-0.13),(0.46,-0.06),(0.58,0.075),(0.6,0.1),(0.66,0.09),(0.56,0.11),(0.44,-0.02),(0.45,0.02),(0.46,0.0),(0.48,0.0),(0.49,-0.03),(0.5,0.02),(0.51,-0.02),(0.52,-0.02),(0.53,0.0),(0.54,0.0),(0.55,-0.01),(0.47,-0.04),(0.42,-0.02),(0.61,0.03),(0.63,0.02),(0.6,0.05),(0.63,0.08),(0.65,0.03),(0.57,0.01),(0.55,-0.06),(0.58,-0.03)]
H_SHADE = [(0.47,0.0),(0.48,-0.02),(0.49,-0.03),(0.5,0.0),(0.51,-0.01),(0.52,0.0),(0.53,-0.01),(0.5,-0.02),(0.46,-0.02),(0.65,0.01),(0.66,0.0),(0.54,0.0)]
H_TOP = [(0.58,0.015),(0.39,-0.02),(0.4,-0.05),(0.42,0.03),(0.5,-0.04),(0.52,-0.07),(0.53,0.05),(0.58,-0.06),(0.7,0.055),(0.89,0.225),(0.66,0.02)]

FIT_X = [[-0.45, 0.45], [-0.45, 0.45], [-3.24, 1.81], [0.3, 1.1]]
FIT_Y = [[-0.40, 0.387], [-0.392, 0.39], [-2.816, 1.53], [0.373, 0.938]]
IDENTITY = [[-0.45, 0.45], [-0.45, 0.45], [-3.23, 1.80], [0.3, 1.1]]
BA_MEANS = [-0.002, -0.004, 0.015, -0.003]
BA_UPPER = [0.067, 0.058, 0.64, 0.102]
BA_LOWER = [-0.07, -0.065, -0.61, -0.107]

TITLES = ["Translation (Horizontal)", "Translation (Vertical)", "Rotation", "Scale"]
X_RANGES = [(-0.45, 0.45), (-0.45, 0.45), (-3.24, 1.807), (0.3, 1.1),
            (-0.416, 0.414), (-0.33, 0.365), (-2.305, 2.31), (0.297, 0.971)]
Y_RANGES = [(-0.45, 0.45), (-0.45, 0.45), (-3.23, 1.797), (0.302, 1.099),
            (-0.436, 0.422), (-0.3585, 0.3585), (-2.712, 2.053), (-0.2466, 0.4505)]
X_TICKS = [[-0.4,-0.2,0,0.2,0.4], [-0.4,-0.2,0,0.2,0.4], [-2,0], [0.4,0.6,0.8,1.0],
           [-0.4,-0.2,0,0.2,0.4], [-0.2,0,0.2], [-2,-1,0,1,2], [0.4,0.6,0.8]]
Y_TICKS = [[-0.4,-0.2,0,0.2,0.4], [-0.4,-0.2,0,0.2,0.4], [-3,-2,-1,0,1], [0.4,0.6,0.8,1.0],
           [-0.4,-0.2,0,0.2,0.4], [-0.2,0,0.2], [-2,-1,0,1,2], [-0.2,-0.1,0,0.1,0.2,0.3,0.4]]
TICK_FMT = [".1f", ".1f", "d", ".1f", ".1f", ".1f", "d", ".1f"]

TH = "<i>\u03b8</i>"
SP = "\u2002"
SM = "\u2004"
X_LABELS = ["<i>t\u0302<sub>x</sub></i>", "<i>t\u0302<sub>y</sub></i>", TH, "<i>s\u0302</i>",
            f"(<i>t\u0302<sub>x</sub></i> + <i>t<sub>x</sub></i>)/2", f"(<i>t\u0302<sub>y</sub></i> + <i>t<sub>y</sub></i>)/2",
            f"\U0001D4B2({TH} + {TH})/2", "(<i>s\u0302</i> + <i>s</i>)/2"]
Y_LABELS = ["<i>t<sub>x</sub></i>", "<i>t<sub>y</sub></i>", TH, "<i>s</i>",
            "<i>t\u0302<sub>x</sub></i> \u2212 <i>t<sub>x</sub></i>", "<i>t\u0302<sub>y</sub></i> \u2212 <i>t<sub>y</sub></i>",
            f"\U0001D4B2({TH} \u2212 {TH})", "<i>s\u0302</i> \u2212 <i>s</i>"]
NOTES = [
    [f"<i>t<sub>x</sub></i>{SP}={SP}0.88<i>t\u0302<sub>x</sub></i>{SM}+{SM}\u22120.01", f"<i>R</i>{SP}={SP}0.96 (<i>p</i>{SP}&lt;{SP}0.0001)"],
    [f"<i>t<sub>y</sub></i>{SP}={SP}0.87<i>t\u0302<sub>y</sub></i>{SM}+{SM}0.00", f"<i>R</i>{SP}={SP}0.94 (<i>p</i>{SP}&lt;{SP}0.0001)"],
    [f"{TH}{SP}={SP}0.87{TH}{SM}+{SM}\u22120.03", f"<i>R</i>{SP}={SP}0.95 (<i>p</i>{SP}&lt;{SP}0.0001)"],
    [f"<i>s</i>{SP}={SP}0.71<i>s\u0302</i>{SM}+{SM}0.16", f"<i>R</i>{SP}={SP}0.88 (<i>p</i>{SP}&lt;{SP}0.0001)"],
    [f"<i>t\u0302<sub>x</sub></i>:{SP}\u22120.06{SM}\u00b1{SM}0.12", f"<i>t<sub>x</sub></i>:{SP}\u22120.06{SM}\u00b1{SM}0.11", f"(<i>p</i>{SP}&lt;{SP}0.0001)"],
    [f"\u22120.03{SM}\u00b1{SM}0.09", f"\u22120.02{SM}\u00b1{SM}0.09", f"(<i>p</i>{SP}&lt;{SP}0.0001)"],
    [f"\u22120.13{SM}\u00b1{SM}1.03", f"\u22120.14{SM}\u00b1{SM}0.94", f"(<i>p</i>{SP}&lt;{SP}0.001)"],
    [f"0.53{SM}\u00b1{SM}0.11", f"0.54{SM}\u00b1{SM}0.09", f"(<i>p</i>{SP}&lt;{SP}0.0001)"],
]
SERIES = [
    (A_FAINT, A_PLUM, A_GREEN, A_MID, A_DENSE, A_CORE, A_SHADE, A_TOP),
    (B_FAINT, B_PLUM, B_GREEN, B_MID, B_DENSE, B_CORE, B_SHADE, B_TOP),
    (C_FAINT, C_PLUM, C_GREEN, C_MID, C_DENSE, C_CORE, C_SHADE, C_TOP),
    (D_FAINT, D_PLUM, D_GREEN, D_MID, D_DENSE, D_CORE, D_SHADE, D_TOP),
    (E_FAINT, E_PLUM, E_GREEN, E_MID, E_DENSE, E_CORE, E_SHADE, E_TOP),
    (F_FAINT, F_PLUM, F_GREEN, F_MID, F_DENSE, F_CORE, F_SHADE, F_TOP),
    (G_FAINT, G_PLUM, G_GREEN, G_MID, G_DENSE, G_CORE, G_SHADE, G_TOP),
    (H_FAINT, H_PLUM, H_GREEN, H_MID, H_DENSE, H_CORE, H_SHADE, H_TOP),
]

# layout in pixels
COL_X = [(93.5, 441), (562.3, 910), (1031.3, 1378.7), (1500, 1847.7)]
ROW_Y = [(33.3, 380), (476, 835)]
YLABEL_GAP = [78, 78, 61, 58, 78, 77, 61, 75]
TICK_SIZE, NOTE_SIZE, LABEL_SIZE, TITLE_SIZE = 23, 22, 25, 28
DOT = 15
TIERS = [(ORANGE, 0.13), (PLUM, 0.28), (GREEN, 0.24), (ORANGE, 0.32), (ORANGE, 0.65),
         (ORANGE, 0.75), (GREEN, 0.22), (GREEN, 0.4)]
TEXT = "#222222"
# hat marks drawn over the theta glyphs: (x px, y px, angle)
HATS = [(1205, 426, 0), (1131, 46, 0), (1186, 878, 0), (965, 648, -90)]

fig = go.Figure()
layout = dict(width=W, height=H, margin=dict(l=0, r=0, t=0, b=0, autoexpand=False), showlegend=False,
              paper_bgcolor="white", plot_bgcolor="white",
              font=dict(family=SERIF, size=TICK_SIZE, color=TEXT))
annotations = []

def px_x(p): return p / W
def px_y(p): return 1 - p / H

def add_line(xs, ys, name, color, width, dash="solid"):
    fig.add_trace(go.Scatter(x=xs, y=ys, mode="lines", xaxis="x" + name, yaxis="y" + name,
                             line=dict(color=color, width=width, dash=dash)))

for i in range(8):
    col, row = i % 4, i // 4
    name = "" if i == 0 else str(i + 1)
    x0, x1 = COL_X[col]
    y0, y1 = ROW_Y[row]
    common = dict(showgrid=False, zeroline=False, showline=True, mirror=True, linecolor="#333333",
                  linewidth=1.6, ticks="outside", ticklen=6, tickwidth=1.3, tickcolor="#333333",
                  tickfont=dict(family=SERIF, size=TICK_SIZE, color=TEXT), automargin=False,
                  tickformat=TICK_FMT[i], tickmode="array")
    layout["xaxis" + name] = dict(domain=[px_x(x0), px_x(x1)], range=list(X_RANGES[i]), tickvals=X_TICKS[i],
                                  anchor="y" + name, **common)
    layout["yaxis" + name] = dict(domain=[px_y(y1), px_y(y0)], range=list(Y_RANGES[i]), tickvals=Y_TICKS[i],
                                  anchor="x" + name, **common)
    for pts, (color, alpha) in zip(SERIES[i], TIERS):
        fig.add_trace(go.Scatter(x=[p[0] for p in pts], y=[p[1] for p in pts], mode="markers",
                                 xaxis="x" + name, yaxis="y" + name,
                                 marker=dict(size=DOT, color=color, opacity=alpha, line=dict(width=0))))
    if row == 0:
        add_line(IDENTITY[col], IDENTITY[col], name, GRAY, 2.5, "9px,6px")
        add_line(FIT_X[col], FIT_Y[col], name, BLACK, 2.6)
        annotations.append(dict(xref="paper", yref="paper", x=px_x((x0 + x1) / 2 - 1), y=px_y(16), text=TITLES[col],
                                showarrow=False, xanchor="center", yanchor="middle",
                                font=dict(family=SERIF, size=TITLE_SIZE, color=TEXT)))
    else:
        xr = list(X_RANGES[i])
        add_line(xr, [BA_UPPER[col]] * 2, name, GRAY, 2.5, "9px,6px")
        add_line(xr, [BA_LOWER[col]] * 2, name, GRAY, 2.5, "9px,6px")
        add_line(xr, [BA_MEANS[col]] * 2, name, BLACK, 2.6)
    annotations.append(dict(xref="paper", yref="paper", x=px_x((x0 + x1) / 2), y=px_y(y1 + 50),
                            text=X_LABELS[i], showarrow=False, xanchor="center", yanchor="middle",
                            font=dict(family=SERIF, size=LABEL_SIZE, color=TEXT)))
    annotations.append(dict(xref="paper", yref="paper", x=px_x(x0 - YLABEL_GAP[i]), y=px_y((y0 + y1) / 2),
                            text=Y_LABELS[i], showarrow=False, textangle=-90, xanchor="center", yanchor="middle",
                            font=dict(family=SERIF, size=LABEL_SIZE, color=TEXT)))
    first = 50 if row == 0 else (489 if i == 4 else 493)
    for j, line in enumerate(NOTES[i]):
        annotations.append(dict(xref="paper", yref="paper", x=px_x(x0 + 16), y=px_y(first + j * (27 if row == 0 else 24.5)),
                                text=line, showarrow=False, xanchor="left", yanchor="middle",
                                font=dict(family=SERIF, size=NOTE_SIZE, color=TEXT)))

for hx, hy, angle in HATS:
    annotations.append(dict(xref="paper", yref="paper", x=px_x(hx), y=px_y(hy), text="\u02c6", textangle=angle,
                            showarrow=False, xanchor="center", yanchor="middle",
                            font=dict(family=SERIF, size=18, color=TEXT)))

layout["annotations"] = annotations
fig.update_layout(**layout)
fig.write_html("out.html", config={"displayModeBar": False},
               post_script="document.body.style.margin='0';document.body.style.overflow='hidden';")
